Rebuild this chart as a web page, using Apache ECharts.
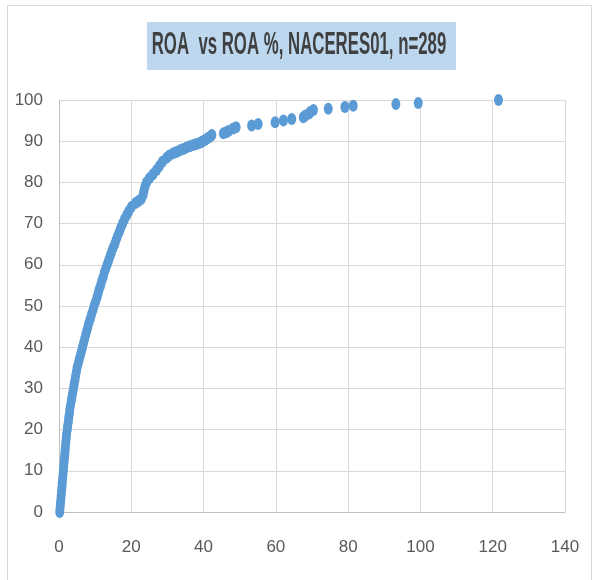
<!DOCTYPE html>
<html>
<head>
<meta charset="utf-8">
<script src="https://cdn.jsdelivr.net/npm/echarts@6/dist/echarts.min.js"></script>
<style>
  html, body { margin: 0; padding: 0; background: #fff; }
  #chart { width: 596px; height: 580px; }
</style>
</head>
<body>
<div id="chart"></div>
<script>
// ROA value (x) and cumulative share in % (y)
var roaValues = [
  0.2, 0.3, 0.4, 0.5, 0.6, 0.7, 0.8, 0.9, 1.0, 1.1,
  1.2, 1.3, 1.4, 1.5, 1.6, 1.7, 1.8, 1.9, 2.0, 2.1,
  2.3, 2.4, 2.6, 2.7, 2.9, 3.0, 3.2, 3.4, 3.6, 3.8,
  4.0, 4.2, 4.4, 4.6, 4.8, 5.0, 5.3, 5.6, 5.9, 6.2,
  6.5, 6.8, 7.1, 7.4, 7.7, 8.0, 8.3, 8.7, 9.0, 9.4,
  9.7, 10.1, 10.5, 10.8, 11.1, 11.5, 11.8, 12.2, 12.5, 12.9,
  13.3, 13.7, 14.1, 14.5, 14.9, 15.4, 15.8, 16.2, 16.7, 17.1,
  17.6, 18.1, 18.7, 19.3, 20.0, 21.2, 22.0, 22.8, 23.3, 23.5,
  23.8, 24.2, 25.0, 26.0, 27.0, 27.8, 28.6, 29.8, 30.5,
  31.6, 32.5, 33.5, 34.4, 35.3, 36.2, 37.2, 38.1, 39.0, 39.7,
  40.4, 41.1, 41.8, 42.3, 45.5, 46.3, 46.9, 48.2, 49.0, 53.3,
  55.1, 59.8, 62.1, 64.4, 67.6, 68.1, 69.2, 69.5, 70.4, 74.5,
  79.1, 81.4, 93.2, 99.4, 121.6
];
var cumPct = [
  0, 1, 2, 3, 4, 5, 6, 7, 8, 9,
  10, 11, 12, 13, 14, 15, 16, 17, 18, 19,
  20, 21, 22, 23, 24, 25, 26, 27, 28, 29,
  30, 31, 32, 33, 34, 35, 36, 37, 38, 39,
  40, 41, 42, 43, 44, 45, 46, 47, 48, 49,
  50, 51, 52, 53, 54, 55, 56, 57, 58, 59,
  60, 61, 62, 63, 64, 65, 66, 67, 68, 69,
  70, 71, 72, 73, 74, 75, 75.5, 76, 77, 78,
  79, 80, 81, 82, 83, 84, 85, 86, 86.5,
  87.1, 87.4, 87.8, 88.1, 88.5, 88.8, 89.1, 89.3, 89.6, 89.9,
  90.3, 90.7, 91.1, 91.5, 91.9, 92.2, 92.5, 93.1, 93.4, 93.8,
  94.2, 94.6, 95.0, 95.4, 95.8, 96.2, 96.7, 97.1, 97.6, 97.9,
  98.3, 98.6, 99.0, 99.3, 100
];
var xTicks = { min: 0, max: 140, step: 20 };
var yTicks = { min: 0, max: 100, step: 10 };
var titleText = 'ROA  vs ROA %, NACERES01, n=289';

var points = [];
for (var i = 0; i < roaValues.length; i++) {
  points.push([roaValues[i], cumPct[i]]);
}

var chart = echarts.init(document.getElementById('chart'));
var labelFont = '"Liberation Sans", Arial, sans-serif';

chart.setOption({
  animation: false,
  backgroundColor: '#ffffff',
  grid: { left: 59, right: 31, top: 100, bottom: 68, containLabel: false },
  graphic: [
    {
      type: 'rect',
      shape: { x: 7.5, y: 5.5, width: 584, height: 600 },
      style: { fill: 'none', stroke: '#D9D9D9', lineWidth: 1 },
      silent: true
    },
    {
      type: 'rect',
      shape: { x: 147, y: 22, width: 309, height: 48 },
      style: { fill: '#BDD7EE' },
      silent: true
    },
    {
      type: 'text',
      x: 299, y: 45,
      scaleX: 0.84,
      scaleY: 1.55,
      style: {
        text: titleText,
        font: 'bold 20px ' + labelFont,
        fill: '#404040',
        align: 'center',
        verticalAlign: 'middle'
      },
      silent: true
    }
  ],
  xAxis: {
    type: 'value',
    min: xTicks.min, max: xTicks.max, interval: xTicks.step,
    axisLine: { show: true, lineStyle: { color: '#BFBFBF', width: 1 } },
    axisTick: { show: false },
    splitLine: { show: true, lineStyle: { color: '#D9D9D9', width: 1 } },
    axisLabel: { color: '#595959', fontFamily: labelFont, fontSize: 17, margin: 27 }
  },
  yAxis: {
    type: 'value',
    min: yTicks.min, max: yTicks.max, interval: yTicks.step,
    axisLine: { show: true, lineStyle: { color: '#BFBFBF', width: 1 } },
    axisTick: { show: false },
    splitLine: { show: true, lineStyle: { color: '#D9D9D9', width: 1 } },
    axisLabel: { color: '#595959', fontFamily: labelFont, fontSize: 17, margin: 16 }
  },
  series: [{
    type: 'scatter',
    data: points,
    symbol: 'circle',
    symbolSize: [9, 12],
    itemStyle: { color: '#5B9BD5', opacity: 1 }
  }]
});
</script>
</body>
</html>
